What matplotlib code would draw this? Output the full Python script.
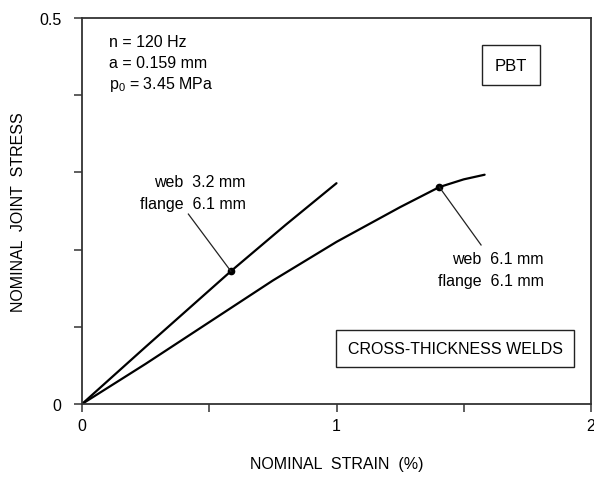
import matplotlib
matplotlib.use("Agg")
import matplotlib.pyplot as plt

plt.rcParams['font.family'] = ['Liberation Sans', 'DejaVu Sans']
plt.rcParams['mathtext.fontset'] = 'custom'
plt.rcParams['mathtext.rm'] = 'Liberation Sans'

# Data (nominal strain %, nominal joint stress)
strain_web32 = [0.0, 0.25, 0.585, 0.8, 1.0]
stress_web32 = [0.0, 0.074, 0.172, 0.232, 0.286]
strain_web61 = [0.0, 0.25, 0.5, 0.75, 1.0, 1.25, 1.404, 1.5, 1.582]
stress_web61 = [0.0, 0.052, 0.106, 0.160, 0.210, 0.255, 0.281, 0.291, 0.297]
marker_web32 = (0.585, 0.172)
marker_web61 = (1.404, 0.281)

x_ticks = [0, 0.5, 1, 1.5, 2]
x_ticklabels = ['0', '', '1', '', '2']
y_ticks = [0, 0.1, 0.2, 0.3, 0.4, 0.5]
y_ticklabels = ['0', '', '', '', '', '0.5']

FS = 11.5
fig = plt.figure(figsize=(5.94, 4.81), dpi=100)
ax = fig.add_axes([82/594, 1-405/481, (591-82)/594, (405-19)/481])

ax.plot(strain_web32, stress_web32, color='black', lw=1.6, solid_capstyle='round')
ax.plot(strain_web61, stress_web61, color='black', lw=1.6, solid_capstyle='round')
ax.plot(*marker_web32, 'o', color='black', ms=4.5)
ax.plot(*marker_web61, 'o', color='black', ms=4.5)

# leader lines
ax.plot([marker_web32[0], 0.418], [marker_web32[1], 0.246], color='#222222', lw=0.9)
ax.plot([marker_web61[0], 1.568], [marker_web61[1], 0.206], color='#222222', lw=0.9)

ax.set_xlim(0, 2)
ax.set_ylim(0, 0.5)
ax.set_xticks(x_ticks)
ax.set_xticklabels(x_ticklabels)
ax.set_yticks(y_ticks)
ax.set_yticklabels(y_ticklabels)
ax.tick_params(direction='out', length=6, width=1.1, labelsize=FS, color='#333333')
ax.tick_params(axis='y', pad=9)
ax.tick_params(axis='x', pad=4)
for s in ax.spines.values():
    s.set_linewidth(1.3)
    s.set_color('#333333')

ax.set_xlabel('NOMINAL  STRAIN  (%)', fontsize=FS, labelpad=17)
ax.set_ylabel('NOMINAL  JOINT  STRESS', fontsize=FS, labelpad=9)

ax.text(0.106, 0.469, 'n = 120 Hz', fontsize=FS, va='center', ha='left')
ax.text(0.106, 0.443, 'a = 0.159 mm', fontsize=FS, va='center', ha='left')
ax.text(0.106, 0.415, r'p$_\mathregular{0}$ = 3.45 MPa', fontsize=FS, va='center', ha='left')

ax.text(0.644, 0.288, 'web  3.2 mm', fontsize=FS, va='center', ha='right')
ax.text(0.644, 0.260, 'flange  6.1 mm', fontsize=FS, va='center', ha='right')
ax.text(1.815, 0.189, 'web  6.1 mm', fontsize=FS, va='center', ha='right')
ax.text(1.815, 0.160, 'flange  6.1 mm', fontsize=FS, va='center', ha='right')

ax.text(1.686, 0.439, 'PBT', fontsize=12, va='center', ha='center',
        bbox=dict(boxstyle='square,pad=0.75', fc='white', ec='#222222', lw=1.0))
ax.text(1.466, 0.0719, 'CROSS-THICKNESS WELDS', fontsize=FS, va='center', ha='center',
        bbox=dict(boxstyle='square,pad=0.7', fc='white', ec='#222222', lw=1.0))

fig.savefig('out.png', dpi=100)
